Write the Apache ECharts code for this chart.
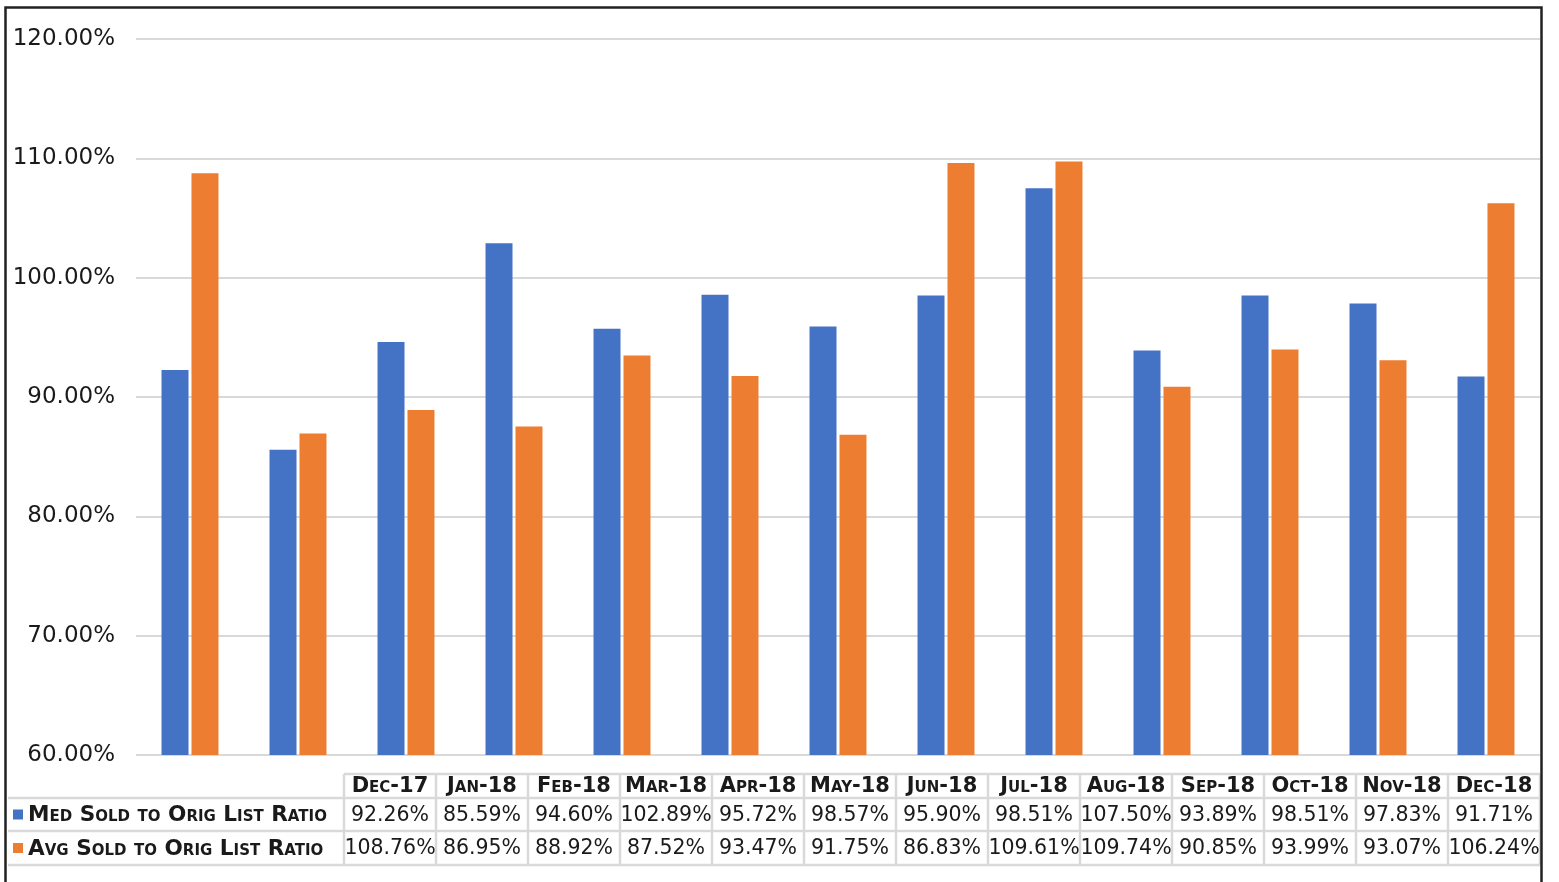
<!DOCTYPE html>
<html>
<head>
<meta charset="utf-8">
<script src="https://cdn.jsdelivr.net/npm/echarts@6/dist/echarts.min.js"></script>
<style>
  html, body { margin: 0; padding: 0; background: #fff; }
  #chart { width: 1559px; height: 882px; }
</style>
</head>
<body>
<div id="chart"></div>
<script>
// data (table under the chart)
const months = ['Dec-17', 'Jan-18', 'Feb-18', 'Mar-18', 'Apr-18', 'May-18', 'Jun-18',
  'Jul-18', 'Aug-18', 'Sep-18', 'Oct-18', 'Nov-18', 'Dec-18']
const medRatio = [92.26, 85.59, 94.60, 102.89, 95.72, 98.57, 95.90, 98.51, 107.50, 93.89, 98.51, 97.83, 91.71]
const avgRatio = [108.76, 86.95, 88.92, 87.52, 93.47, 91.75, 86.83, 109.61, 109.74, 90.85, 93.99, 93.07, 106.24]
const seriesNames = ['Med Sold to Orig List Ratio', 'Avg Sold to Orig List Ratio']
const colors = ['#4472C4', '#ED7D31']

const chart = echarts.init(document.getElementById('chart'))

const lineColor = '#d9d9d9'
const textColor = '#1a1a1a'

// data table below the plot
const buildTable = () => {
  const x0 = 344
  const colW = 92
  const xEnd = x0 + colW * months.length
  const rowY = [774, 798, 831, 865]
  const els = []

  const hLine = (xa, xb, y) => ({
    type: 'line', shape: { x1: xa, y1: y, x2: xb, y2: y },
    style: { stroke: lineColor, lineWidth: 2.5 }
  })
  els.push(hLine(x0, xEnd, rowY[0]))
  els.push(hLine(8, xEnd, rowY[1]))
  els.push(hLine(8, xEnd, rowY[2]))
  els.push(hLine(8, xEnd, rowY[3]))
  for (let i = 0; i <= months.length; i++) {
    const x = x0 + i * colW
    els.push({
      type: 'line', shape: { x1: x, y1: rowY[0], x2: x, y2: rowY[3] },
      style: { stroke: lineColor, lineWidth: 2.5 }
    })
  }

  months.forEach((m, i) => {
    const cx = x0 + i * colW + colW / 2
    els.push({
      type: 'text', x: cx, y: (rowY[0] + rowY[1]) / 2 + 1,
      style: {
        text: m, align: 'center', verticalAlign: 'middle',
        font: 'small-caps bold 21px "DejaVu Sans"', fill: textColor
      }
    })
    ;[medRatio, avgRatio].forEach((arr, r) => {
      els.push({
        type: 'text', x: cx, y: (rowY[r + 1] + rowY[r + 2]) / 2 + 1,
        style: {
          text: arr[i].toFixed(2) + '%', align: 'center', verticalAlign: 'middle',
          font: '20.5px "DejaVu Sans"', fill: textColor
        }
      })
    })
  })

  seriesNames.forEach((name, r) => {
    const cy = (rowY[r + 1] + rowY[r + 2]) / 2
    els.push({
      type: 'rect', shape: { x: 13, y: cy - 5, width: 10, height: 10 },
      style: { fill: colors[r] }
    })
    els.push({
      type: 'text', x: 28, y: cy + 1,
      style: {
        text: name, align: 'left', verticalAlign: 'middle',
        font: 'small-caps bold 21.6px "DejaVu Sans"', fill: textColor
      }
    })
  })

  // outer frame
  els.push({
    type: 'rect', shape: { x: 5.5, y: 7.5, width: 1536, height: 900 },
    style: { fill: null, stroke: '#222', lineWidth: 2.5 }
  })
  return els
}

const option = {
  backgroundColor: '#fff',
  animation: false,
  grid: { left: 136, right: 19, top: 39, bottom: 127 },
  xAxis: {
    type: 'category',
    data: months,
    axisLine: { show: false },
    axisTick: { show: false },
    axisLabel: { show: false }
  },
  yAxis: {
    type: 'value',
    min: 60,
    max: 120,
    interval: 10,
    axisLine: { show: false },
    axisTick: { show: false },
    axisLabel: {
      formatter: v => v.toFixed(2) + '%',
      fontFamily: 'DejaVu Sans',
      fontSize: 23,
      color: textColor,
      margin: 21
    },
    splitLine: { lineStyle: { color: lineColor, width: 2 } }
  },
  series: [
    {
      name: seriesNames[0], type: 'bar', data: medRatio,
      barWidth: '25%', barGap: '11%',
      itemStyle: { color: colors[0] }
    },
    {
      name: seriesNames[1], type: 'bar', data: avgRatio,
      barWidth: '25%', barGap: '11%',
      itemStyle: { color: colors[1] }
    }
  ],
  graphic: buildTable()
}

chart.setOption(option)
</script>
</body>
</html>
